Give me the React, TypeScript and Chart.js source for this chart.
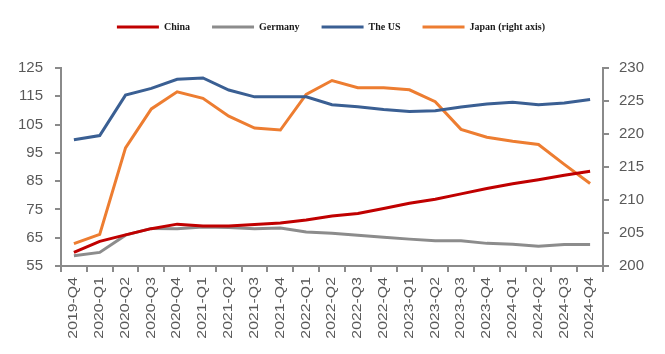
import React, { useEffect, useRef } from "react";
import { Chart, registerables } from "chart.js";

Chart.register(...registerables);

const categories = [
  "2019-Q4", "2020-Q1", "2020-Q2", "2020-Q3", "2020-Q4", "2021-Q1", "2021-Q2",
  "2021-Q3", "2021-Q4", "2022-Q1", "2022-Q2", "2022-Q3", "2022-Q4", "2023-Q1",
  "2023-Q2", "2023-Q3", "2023-Q4", "2024-Q1", "2024-Q2", "2024-Q3", "2024-Q4",
];

const china = [59.8, 63.7, 66.0, 68.2, 69.8, 69.1, 69.1, 69.7, 70.2, 71.3, 72.7, 73.6, 75.3, 77.2, 78.6, 80.5, 82.4, 84.1, 85.5, 87.1, 88.5];
const germany = [58.6, 59.8, 65.9, 68.3, 68.2, 68.8, 68.6, 68.2, 68.4, 67.0, 66.6, 65.9, 65.2, 64.5, 63.9, 63.9, 63.0, 62.7, 62.0, 62.6, 62.6];
const us = [99.6, 101.1, 115.4, 117.8, 121.0, 121.5, 117.2, 114.8, 114.8, 114.8, 112.0, 111.3, 110.3, 109.6, 109.9, 111.2, 112.3, 112.9, 112.0, 112.6, 113.9];
const japan = [203.4, 204.8, 217.9, 223.8, 226.4, 225.4, 222.7, 220.9, 220.6, 226.0, 228.1, 227.0, 227.0, 226.7, 224.9, 220.7, 219.5, 218.9, 218.4, 215.4, 212.5];

const seriesNames = ["China", "Germany", "The US", "Japan (right axis)"];
const seriesColors = ["#C00000", "#8C8C8C", "#3A5F93", "#ED7D31"];

const leftMin = 55, leftMax = 125, leftStep = 10;
const rightMin = 200, rightMax = 230, rightStep = 5;

const AXIS = "#8A8A8A";
const TICK_TEXT = "#595959";

export default function App() {
  const ref = useRef<HTMLCanvasElement | null>(null);

  useEffect(() => {
    if (!ref.current) return;

    const legendSpace = {
      id: "legendSpace",
      afterInit(chart: any) {
        const lg = chart.legend;
        if (lg && !lg.__patched) {
          const origFit = lg.fit;
          lg.fit = function () {
            origFit.call(this);
            this.height += 18;
          };
          const origDraw = lg.draw;
          lg.draw = function (...args: any[]) {
            const ctx = chart.ctx;
            ctx.save();
            ctx.translate(0, -8);
            origDraw.apply(this, args);
            ctx.restore();
          };
          lg.__patched = true;
        }
      },
    };

    const xLabels = {
      id: "xLabels",
      afterDraw(chart: any) {
        const ctx = chart.ctx;
        const xs = chart.scales.x;
        const y0 = chart.chartArea.bottom + 11;
        ctx.save();
        ctx.fillStyle = TICK_TEXT;
        ctx.font = "12px 'Liberation Sans', Arial, sans-serif";
        ctx.textAlign = "right";
        ctx.textBaseline = "middle";
        categories.forEach((lab, i) => {
          const x = xs.getPixelForValue(i);
          ctx.save();
          ctx.translate(x, y0);
          ctx.rotate(-Math.PI / 2);
          ctx.scale(1.32, 1);
          ctx.fillText(lab, 0, 0);
          ctx.restore();
        });
        ctx.restore();
      },
    };

    const mk = (i: number, data: number[], axis: string) => ({
      label: seriesNames[i],
      data,
      borderColor: seriesColors[i],
      backgroundColor: seriesColors[i],
      borderWidth: 3,
      pointRadius: 0,
      tension: 0,
      yAxisID: axis,
      fill: false,
    });

    const chart = new Chart(ref.current, {
      type: "line",
      data: {
        labels: categories,
        datasets: [
          mk(0, china, "y"),
          mk(1, germany, "y"),
          mk(2, us, "y"),
          mk(3, japan, "y1"),
        ],
      },
      options: {
        animation: false,
        responsive: true,
        maintainAspectRatio: false,
        layout: { padding: { left: 10, right: 13, top: 0, bottom: 74 } },
        plugins: {
          tooltip: { enabled: false },
          legend: {
            position: "top",
            labels: {
              boxWidth: 42,
              boxHeight: 3,
              padding: 22,
              color: "#1a1a1a",
              font: { family: "'Liberation Serif', 'Times New Roman', serif", size: 10, weight: "bold" },
              generateLabels: (c: any) =>
                c.data.datasets.map((ds: any, i: number) => ({
                  text: ds.label,
                  fillStyle: ds.borderColor,
                  strokeStyle: ds.borderColor,
                  lineWidth: 0,
                  hidden: false,
                  datasetIndex: i,
                  fontColor: "#1a1a1a",
                })),
            },
          },
        },
        scales: {
          x: {
            type: "category",
            offset: true,
            grid: { display: true, drawOnChartArea: false, offset: true, tickLength: 6, color: AXIS, lineWidth: 2 },
            border: { display: true, color: AXIS, width: 2 },
            ticks: { display: false },
          },
          y: {
            position: "left",
            min: leftMin,
            max: leftMax,
            afterFit: (s: any) => { s.width = 43; },
            grid: { display: true, drawOnChartArea: false, tickLength: 6, color: AXIS, lineWidth: 2 },
            border: { display: true, color: AXIS, width: 2 },
            ticks: {
              stepSize: leftStep,
              padding: 12,
              color: TICK_TEXT,
              font: { family: "'Liberation Sans', Arial, sans-serif", size: 15 },
            },
          },
          y1: {
            position: "right",
            min: rightMin,
            max: rightMax,
            afterFit: (s: any) => { s.width = 41; },
            grid: { display: true, drawOnChartArea: false, tickLength: 6, color: AXIS, lineWidth: 2 },
            border: { display: true, color: AXIS, width: 2 },
            ticks: {
              stepSize: rightStep,
              padding: 10,
              color: TICK_TEXT,
              font: { family: "'Liberation Sans', Arial, sans-serif", size: 15 },
            },
          },
        },
      },
      plugins: [legendSpace, xLabels],
    } as any);

    return () => chart.destroy();
  }, []);

  return (
    <div style={{ width: 649, height: 338, position: "relative" }}>
      <canvas ref={ref} />
    </div>
  );
}
